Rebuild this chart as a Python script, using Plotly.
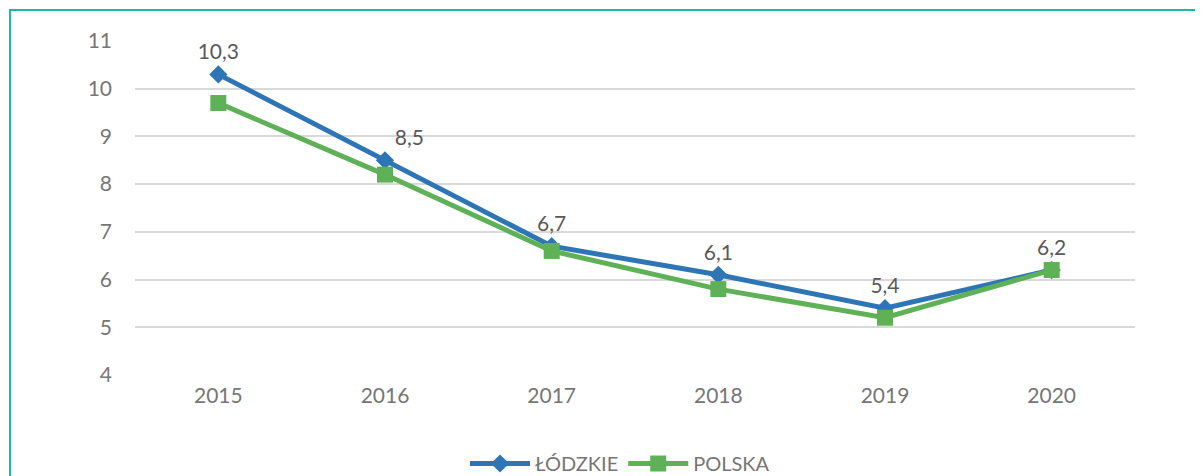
import plotly.graph_objects as go

years = ["2015", "2016", "2017", "2018", "2019", "2020"]
lodzkie = [10.3, 8.5, 6.7, 6.1, 5.4, 6.2]
polska = [9.7, 8.2, 6.6, 5.8, 5.2, 6.2]
lodzkie_labels = ["10,3", "8,5", "6,7", "6,1", "5,4", "6,2"]
y_ticks = [4, 5, 6, 7, 8, 9, 10, 11]

FONT = "Lato, 'Open Sans', sans-serif"

fig = go.Figure()
fig.add_trace(go.Scatter(
    x=years, y=lodzkie, name="ŁÓDZKIE", mode="lines+markers+text",
    line=dict(color="#2E75B6", width=5),
    marker=dict(symbol="diamond", size=14, color="#2E75B6"),
    text=lodzkie_labels,
    textposition=["top center", "top right", "top center", "top center", "top center", "top center"],
    textfont=dict(size=21, color="#595959", family=FONT),
))
fig.add_trace(go.Scatter(
    x=years, y=polska, name="POLSKA", mode="lines+markers",
    line=dict(color="#5FB157", width=5),
    marker=dict(symbol="square", size=16, color="#5FB157"),
))

fig.update_layout(
    width=1195, height=468,
    margin=dict(l=127, r=68, t=33, b=101, autoexpand=False),
    paper_bgcolor="white", plot_bgcolor="white",
    font=dict(family=FONT, color="#767676", size=21),
    showlegend=True,
    legend=dict(orientation="h", x=0.485, xanchor="center", y=-0.265, yanchor="middle",
                font=dict(size=20, color="#767676"), traceorder="normal", itemwidth=60),
    xaxis=dict(type="category", range=[-0.5, 5.5], showgrid=False, showline=False,
               zeroline=False, ticks="", ticklabelstandoff=6,
               tickfont=dict(size=21, color="#767676")),
    yaxis=dict(range=[4, 11], tickvals=y_ticks, showgrid=True, gridcolor="#D9D9D9",
               gridwidth=1.5, zeroline=False, showline=False, ticks="",
               ticklabelstandoff=22, tickfont=dict(size=21, color="#767676")),
    shapes=[dict(type="rect", xref="paper", yref="paper",
                 x0=-0.125, x1=1.2, y0=-0.4, y1=1.0928,
                 line=dict(color="#1DB9A0", width=2), layer="below")],
)

fig.write_html("out.html")
